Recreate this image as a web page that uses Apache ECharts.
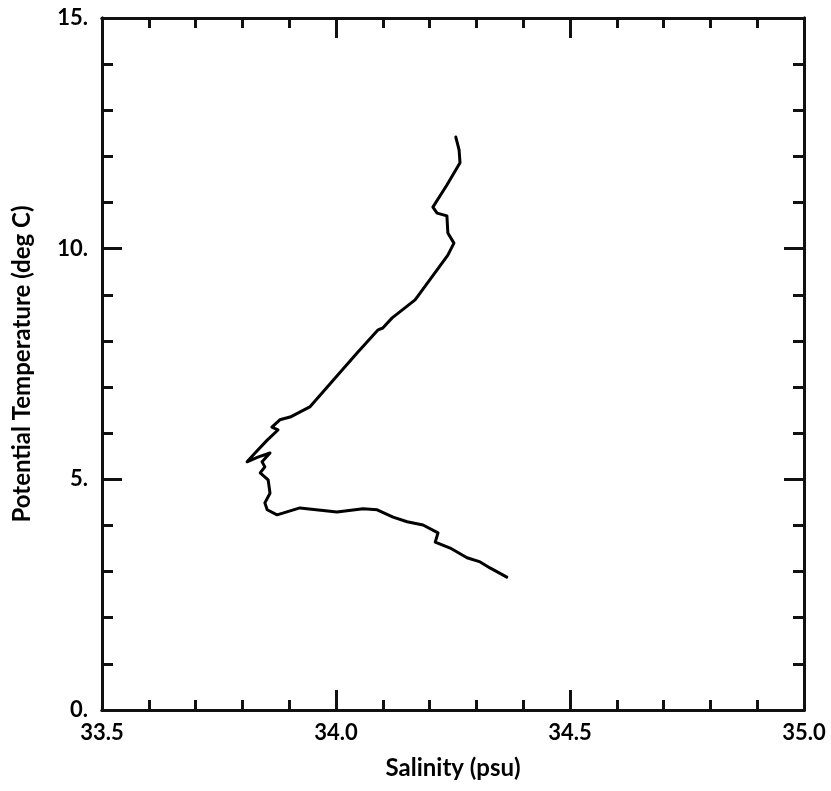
<!DOCTYPE html>
<html>
<head>
<meta charset="utf-8">
<script src="https://cdn.jsdelivr.net/npm/echarts@6/dist/echarts.min.js"></script>
<style>
html, body { margin: 0; padding: 0; background: #fff; }
#chart { width: 831px; height: 791px; }
</style>
</head>
<body>
<div id="chart"></div>
<script>
// T-S profile (top of the cast first)
const salinity = [34.256, 34.263, 34.265, 34.237, 34.207, 34.216, 34.237, 34.239, 34.252, 34.239,
	34.216, 34.169, 34.120, 34.100, 34.090, 34.045, 33.994, 33.944, 33.902, 33.880,
	33.863, 33.876, 33.853, 33.827, 33.810, 33.833, 33.859, 33.842, 33.848, 33.838,
	33.855, 33.859, 33.848, 33.853, 33.874, 33.923, 34.002, 34.058, 34.088, 34.122,
	34.152, 34.186, 34.218, 34.212, 34.244, 34.280, 34.308, 34.329, 34.365];
const potTemp = [12.42, 12.14, 11.86, 11.38, 10.90, 10.77, 10.71, 10.34, 10.12, 9.86,
	9.54, 8.89, 8.50, 8.28, 8.24, 7.74, 7.15, 6.57, 6.35, 6.29,
	6.13, 6.07, 5.85, 5.57, 5.38, 5.48, 5.57, 5.38, 5.27, 5.14,
	4.99, 4.70, 4.49, 4.34, 4.23, 4.38, 4.29, 4.36, 4.34, 4.18,
	4.08, 4.01, 3.84, 3.64, 3.51, 3.30, 3.21, 3.08, 2.88];
const xTicks = [33.5, 34.0, 34.5, 35.0];
const yTicks = [0, 5, 10, 15];

const FONT = 'Lato';
const lineCol = '#111';

var chart = echarts.init(document.getElementById('chart'));

// one axis per tick size: big ticks with labels, small ticks without
function makeAxis(pos, min, max, step, tickLen, label)
{
	return {
		type: 'value',
		position: pos,
		min: min, max: max, interval: step,
		axisLine: { show: true, onZero: false, lineStyle: { color: lineCol, width: 3 } },
		axisTick: { show: true, inside: true, length: tickLen, lineStyle: { color: lineCol, width: 3 } },
		splitLine: { show: false },
		axisLabel: label || { show: false }
	};
}

var xLabel = {
	margin: 12,
	fontFamily: FONT, fontWeight: 'bold', fontSize: 22, color: '#000',
	formatter: (v) => v.toFixed(1)
};
var yLabel = {
	margin: 14,
	fontFamily: FONT, fontWeight: 'bold', fontSize: 22, color: '#000',
	formatter: (v) => v + '.'
};

var xMin = xTicks[0], xMax = xTicks[xTicks.length - 1];
var yMin = yTicks[0], yMax = yTicks[yTicks.length - 1];

var xMain = makeAxis('bottom', xMin, xMax, 0.5, 20, xLabel);
xMain.name = 'Salinity (psu)';
xMain.nameLocation = 'middle';
xMain.nameGap = 46;
xMain.nameTextStyle = { fontFamily: FONT, fontWeight: 'bold', fontSize: 24, color: '#000' };

var yMain = makeAxis('left', yMin, yMax, 5, 20, yLabel);
yMain.name = 'Potential Temperature (deg C)';
yMain.nameLocation = 'middle';
yMain.nameGap = 68;
yMain.nameTextStyle = { fontFamily: FONT, fontWeight: 'bold', fontSize: 24, color: '#000' };

var points = salinity.map((s, i) => [s, potTemp[i]]);

var option = {
	animation: false,
	backgroundColor: '#fff',
	grid: { left: 102, top: 18, width: 702, height: 692 },
	xAxis: [
		xMain,
		makeAxis('bottom', xMin, xMax, 0.1, 10),
		makeAxis('top', xMin, xMax, 0.5, 20),
		makeAxis('top', xMin, xMax, 0.1, 10)
	],
	yAxis: [
		yMain,
		makeAxis('left', yMin, yMax, 1, 11),
		makeAxis('right', yMin, yMax, 5, 20),
		makeAxis('right', yMin, yMax, 1, 11)
	],
	series: [
		{
			type: 'line',
			data: points,
			showSymbol: false,
			symbol: 'none',
			smooth: false,
			lineStyle: { color: '#000', width: 3, join: 'round', cap: 'round' }
		}
	]
};

chart.setOption(option);
</script>
</body>
</html>
